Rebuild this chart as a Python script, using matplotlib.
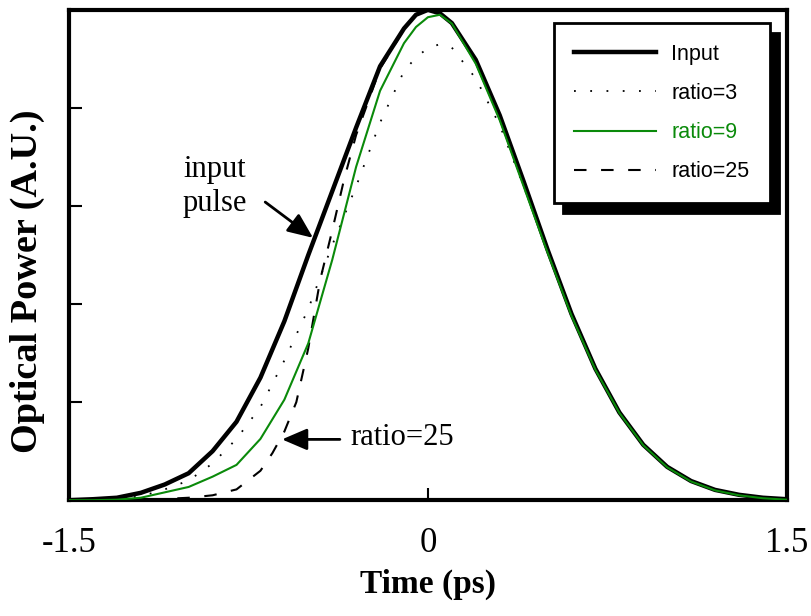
import matplotlib
matplotlib.use("Agg")
import matplotlib.pyplot as plt

# time axis (ps) and normalised optical power
time = [-1.5, -1.4, -1.3, -1.2, -1.1, -1.0, -0.9, -0.8, -0.7, -0.6, -0.5,
        -0.4, -0.3, -0.2, -0.1, -0.05, 0.0, 0.05, 0.1, 0.2, 0.3, 0.4, 0.5,
        0.6, 0.7, 0.8, 0.9, 1.0, 1.1, 1.2, 1.3, 1.4, 1.5]

power_input = [0.0, 0.002, 0.005, 0.015, 0.032, 0.055, 0.10, 0.16, 0.25, 0.365, 0.50,
               0.63, 0.76, 0.885, 0.962, 0.99, 1.0, 0.993, 0.973, 0.898, 0.785, 0.65, 0.511,
               0.38, 0.268, 0.179, 0.113, 0.068, 0.039, 0.021, 0.011, 0.005, 0.002]

power_ratio3 = [0.0, 0.0, 0.002, 0.008, 0.022, 0.04, 0.075, 0.125, 0.19, 0.285, 0.39,
                0.52, 0.64, 0.77, 0.875, 0.903, 0.922, 0.93, 0.923, 0.86, 0.765, 0.64, 0.508,
                0.378, 0.267, 0.178, 0.112, 0.067, 0.038, 0.02, 0.01, 0.004, 0.001]

power_ratio9 = [0.0, 0.0, 0.001, 0.005, 0.016, 0.027, 0.048, 0.072, 0.125, 0.205, 0.32,
                0.49, 0.68, 0.835, 0.932, 0.965, 0.985, 0.99, 0.972, 0.89, 0.775, 0.64, 0.505,
                0.376, 0.266, 0.178, 0.112, 0.067, 0.038, 0.02, 0.01, 0.004, 0.001]

time_ratio25 = [-1.5, -1.2, -1.0, -0.9, -0.8, -0.7, -0.65, -0.6, -0.55, -0.5, -0.45,
                -0.4, -0.35, -0.3, -0.2, -0.1, -0.05, 0.0, 0.05, 0.1, 0.2, 0.3, 0.4, 0.5,
                0.6, 0.7, 0.8, 0.9, 1.0, 1.1, 1.2, 1.3, 1.4, 1.5]
power_ratio25 = [0.0, 0.0, 0.005, 0.01, 0.022, 0.06, 0.096, 0.14, 0.2, 0.31, 0.45,
                 0.55, 0.655, 0.745, 0.88, 0.96, 0.99, 1.0, 0.993, 0.973, 0.898, 0.785, 0.65, 0.511,
                 0.38, 0.268, 0.179, 0.113, 0.068, 0.039, 0.021, 0.011, 0.005, 0.002]

labels = ["Input", "ratio=3", "ratio=9", "ratio=25"]
x_ticks = [-1.5, 0, 1.5]
x_ticklabels = ["-1.5", "0", "1.5"]
y_ticks = [0.2, 0.4, 0.6, 0.8]

GREEN = "#0a8a0a"
SERIF = "Liberation Serif"
SANS = "Liberation Sans"

fig, ax = plt.subplots(figsize=(8.12, 6.16), dpi=100)
fig.subplots_adjust(left=0.085, right=0.969, bottom=0.188, top=0.984)

ax.plot(time, power_input, color="black", lw=3.2, label=labels[0], zorder=3)
ax.plot(time, power_ratio3, color="black", lw=1.3, ls=(0, (1, 8)), label=labels[1], zorder=4)
ax.plot(time, power_ratio9, color=GREEN, lw=1.5, label=labels[2], zorder=4)
ax.plot(time_ratio25, power_ratio25, color="black", lw=1.5, ls=(0, (6, 7)), label=labels[3], zorder=2)

ax.set_xlim(-1.5, 1.5)
ax.set_ylim(0, 1.0)
ax.set_xticks(x_ticks)
ax.set_xticklabels(x_ticklabels, fontfamily=SERIF, fontsize=25)
ax.set_yticks(y_ticks)
ax.set_yticklabels([])
ax.tick_params(axis="both", direction="in", length=9, width=1.5)
ax.tick_params(axis="x", pad=19)

for sp in ax.spines.values():
    sp.set_linewidth(3)

ax.set_xlabel("Time (ps)", fontfamily=SERIF, fontweight="bold", fontsize=24)
ax.xaxis.set_label_coords(0.5, -0.14)
ax.set_ylabel("Optical Power (A.U.)", fontfamily=SERIF, fontweight="bold", fontsize=27.5)
ax.yaxis.set_label_coords(-0.034, 0.447)

# annotations
ax.text(-0.89, 0.64, "input\npulse", fontfamily=SERIF, fontsize=22,
        ha="center", va="center", multialignment="center", linespacing=1.25)
ax.annotate("", xy=(-0.48, 0.535), xytext=(-0.68, 0.608),
            arrowprops=dict(arrowstyle="-|>,head_length=0.7,head_width=0.3",
                            color="black", lw=2, mutation_scale=22, shrinkA=0, shrinkB=0))
ax.text(-0.326, 0.127, "ratio=25", fontfamily=SERIF, fontsize=22, ha="left", va="center")
ax.annotate("", xy=(-0.61, 0.124), xytext=(-0.368, 0.124),
            arrowprops=dict(arrowstyle="-|>,head_length=0.7,head_width=0.3",
                            color="black", lw=2, mutation_scale=22, shrinkA=0, shrinkB=0))

leg = ax.legend(loc="upper right", bbox_to_anchor=(0.976, 0.973), borderaxespad=0,
                prop={"family": SANS, "size": 15.5}, handlelength=3.8, handletextpad=0.7,
                labelspacing=0.85, borderpad=0.95, fancybox=False, framealpha=1,
                edgecolor="black", shadow={"ox": 7, "oy": -7, "shade": 1.0, "alpha": 1})
leg.get_frame().set_linewidth(2)
leg.texts[2].set_color(GREEN)

fig.savefig("out.png", dpi=100)
